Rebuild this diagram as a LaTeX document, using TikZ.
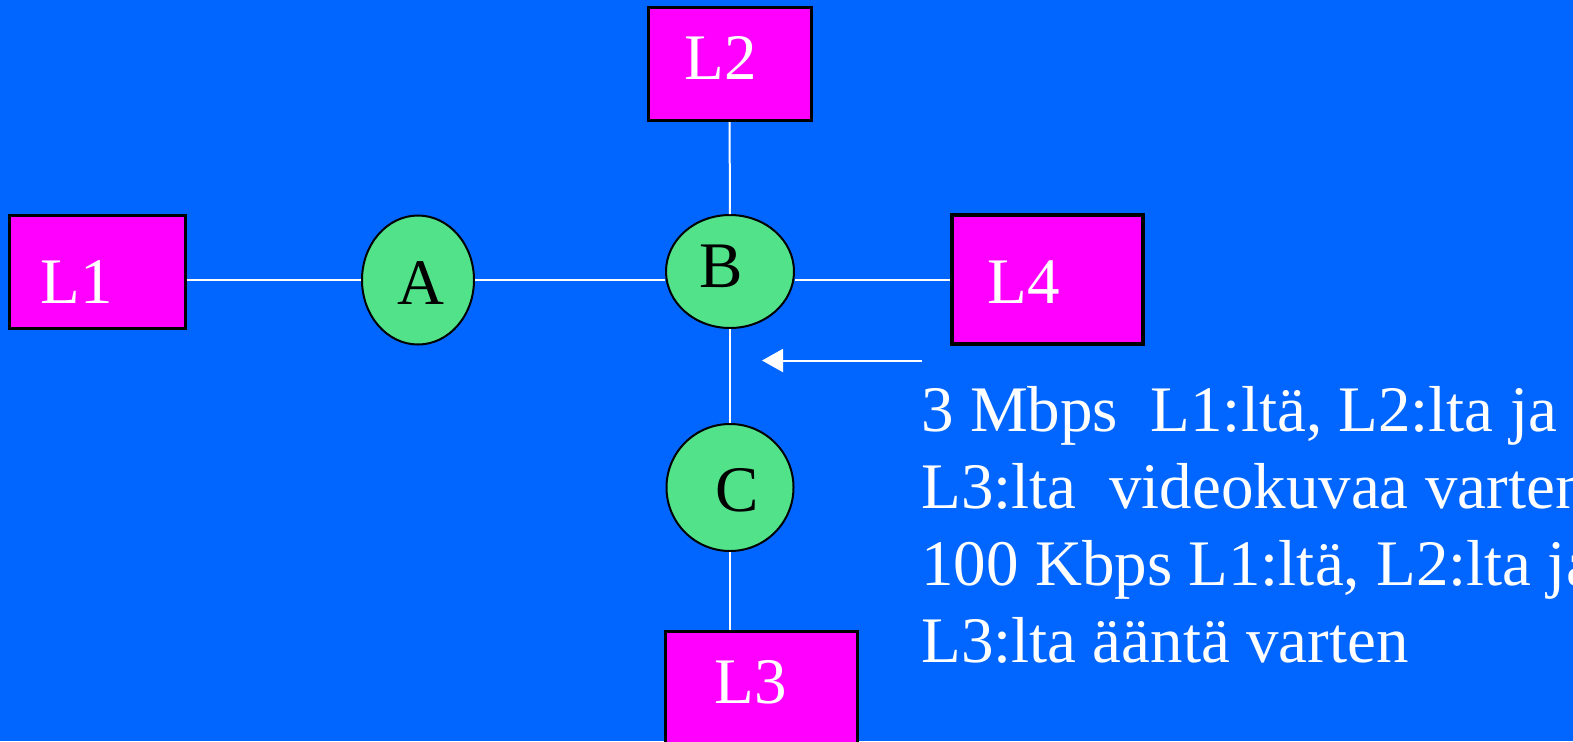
\documentclass[tikz,border=0pt]{standalone}
\usepackage{fontspec}
\setmainfont{Liberation Serif}
\usetikzlibrary{shapes.geometric, arrows.meta}
\definecolor{bgblue}{RGB}{0,102,255}
\definecolor{hostmagenta}{RGB}{255,0,255}
\definecolor{routergreen}{RGB}{82,227,138}
\newcommand{\slidefont}{\fontsize{32.5pt}{38.4pt}\selectfont}
\tikzset{
  host/.style={rectangle, draw=black, line width=1.5pt, fill=hostmagenta, inner sep=0pt},
  host text/.style={text=white, font=\slidefont, inner sep=0pt},
  router/.style={ellipse, draw=black, line width=1pt, fill=routergreen, inner sep=0pt},
  router text/.style={text=black, font=\slidefont, inner sep=0pt},
  link/.style={draw=white, line width=1pt},
  note/.style={text=white, font=\slidefont, align=left, inner sep=0pt},
}

\begin{document}
\begin{tikzpicture}[x=0.5pt, y=-0.5pt]
  \useasboundingbox[fill=bgblue] (0,0) rectangle (1573,741);
  % hosts
  \node[host, minimum width=88pt, minimum height=56.5pt,
        label={[host text, xshift=-10pt, yshift=-5.25pt]center:L1}] (L1) at (97,271.5) {};
  \node[host, minimum width=81.5pt, minimum height=56.5pt,
        label={[host text, xshift=-4.5pt, yshift=3pt]center:L2}] (L2) at (729.5,64) {};
  \node[host, line width=2pt, minimum width=95.5pt, minimum height=64.5pt,
        label={[host text, xshift=-11.75pt, yshift=-1.25pt]center:L4}] (L4) at (1047.5,279.5) {};
  \node[host, minimum width=96pt, minimum height=65pt,
        label={[host text, xshift=-5pt, yshift=6.75pt]center:L3}] (L3) at (761,696) {};
  % routers
  \node[router, minimum width=56pt, minimum height=64.5pt,
        label={[router text, xshift=1.5pt, yshift=-1.5pt]center:A}] (A) at (418,280) {};
  \node[router, minimum width=64pt, minimum height=56.5pt,
        label={[router text, xshift=-4.5pt, yshift=2.5pt]center:B}] (B) at (730,271.5) {};
  \node[router, minimum width=63.5pt, minimum height=63.5pt,
        label={[router text, xshift=3.5pt, yshift=-1.25pt]center:C}] (C) at (730,487.5) {};
  % links
  \draw[link] (L1.east |- A) -- (A);
  \draw[link] (A) -- (A -| B.west);
  \draw[link] (B.east |- A) -- (L4.west |- A);
  \draw[link] (L2) -- (B);
  \draw[link] (B) -- (C);
  \draw[link] (C) -- (C |- L3.north);
  % traffic note
  \coordinate (arrS) at (922,360.5);
  \coordinate (arrE) at (762,360.5);
  \draw[link, -{Triangle[length=10.5pt, width=11.5pt]}] (arrS) -- (arrE);
  \node[note, anchor=base west] (info) at (921,662)
    {3 Mbps\ \ L1:ltä, L2:lta ja\\
     L3:lta\ \ videokuvaa varten\\
     100 Kbps L1:ltä, L2:lta ja\\
     L3:lta ääntä varten};
\end{tikzpicture}
\end{document}
